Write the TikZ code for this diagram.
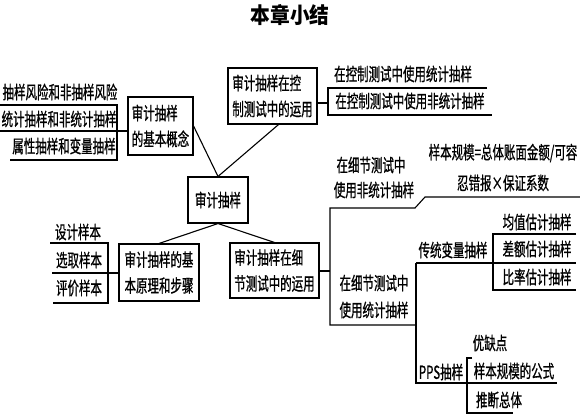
\documentclass[tikz,border=0pt]{standalone}
\usepackage{fontspec}
\newfontfamily\cjk[FakeStretch=0.64,FakeBold=0.8]{Noto Sans CJK SC}
\newfontfamily\cjkt[FakeStretch=0.9]{Noto Sans CJK SC}
\usetikzlibrary{calc}
\begin{document}
\begin{tikzpicture}[x=1bp,y=-1bp,
  ln/.style={line width=1.1bp},
  box/.style={draw, line width=1.1bp, inner sep=0pt, align=left, font=\cjk\fontsize{18}{26}\selectfont},
  txt/.style={inner sep=0pt, font=\cjk\fontsize{18}{26}\selectfont}]
\useasboundingbox (0,0) rectangle (580,415);
\node[font=\cjkt\bfseries\fontsize{22}{24}\selectfont] (title) at (290,15) {本章小结};
% boxes
\node[box, minimum width=65bp, minimum height=58bp] (b1) at (160.5,126) {审计抽样\\的基本概念};
\node[box, minimum width=89bp, minimum height=56bp] (b2) at (272.5,96) {审计抽样在控\\制测试中的运用};
\node[box, minimum width=60bp, minimum height=46bp] (b0) at (218,200) {审计抽样};
\node[box, minimum width=80bp, minimum height=57bp] (b3) at (159,272.5) {审计抽样的基\\本原理和步骤};
\node[box, minimum width=89bp, minimum height=55bp] (b4) at (274.5,270.5) {审计抽样在细\\节测试中的运用};
% connectors
\draw[ln] (b1.east) -- (b0.north);
\draw[ln] ($(b2.south)+(6,0)$) -- (b0.north);
\draw[ln] (b0.south) -- (b3.north);
\draw[ln] (b0.south) -- (b4.north);
% left bracket (concept)
\node[txt] (a1) at (60,92) {抽样风险和非抽样风险};
\node[txt] (a2) at (59,119) {统计抽样和非统计抽样};
\node[txt] (a3) at (64,146) {属性抽样和变量抽样};
\draw[ln] (0,105) -- (117,105) -- (117,160) -- (10,160);
\draw[ln] (0,131) -- (b1.west |- 0,131);
% left bracket (steps)
\node[txt] (s1) at (78,232) {设计样本};
\node[txt] (s2) at (79,260) {选取样本};
\node[txt] (s3) at (79,288) {评价样本};
\draw[ln] (50,243) -- (108,243) -- (108,303) -- (53,303);
\draw[ln] (52,273) -- (b3.west |- 0,273);
% control test branch
\node[txt] (c1) at (403,74) {在控制测试中使用统计抽样};
\node[txt] (c2) at (410,101) {在控制测试中使用非统计抽样};
\draw[ln] (b2.east |- 0,103) -- (328,103);
\draw[ln] (487,88) -- (328,88) -- (328,115) -- (492,115);
% detail test branch
\node[txt] (d1) at (371,165) {在细节测试中};
\node[txt] (d2) at (374,190) {使用非统计抽样};
\node[txt] (f1) at (503,153) {样本规模=总体账面金额/可容};
\node[txt] (f2) at (503,183) {忍错报×保证系数};
\draw[ln] (b4.east |- 0,271) -- (330,271);
\draw[ln] (580,197) -- (425,197) -- (415,208) -- (330,208) -- (330,325) -- (416,325);
\node[txt] (e1) at (374,283) {在细节测试中};
\node[txt] (e2) at (374,310) {使用统计抽样};
\draw[ln] (416,263) -- (416,383) -- (557,383);
\node[txt] (v0) at (453,250) {传统变量抽样};
\draw[ln] (416,263) -- (576,263);
\draw[ln] (576,234) -- (493,234) -- (493,290) -- (576,290);
\node[txt] (v1) at (537,222) {均值估计抽样};
\node[txt] (v2) at (537,249) {差额估计抽样};
\node[txt] (v3) at (537,277) {比率估计抽样};
\node[txt] (p0) at (441,372) {PPS抽样};
\node[txt] (p1) at (490,343) {优缺点};
\node[txt] (p2) at (514,371) {样本规模的公式};
\node[txt] (p3) at (499,400) {推断总体};
\draw[ln] (472,358) -- (467,358) -- (467,413) -- (513,413);
\end{tikzpicture}
\end{document}
